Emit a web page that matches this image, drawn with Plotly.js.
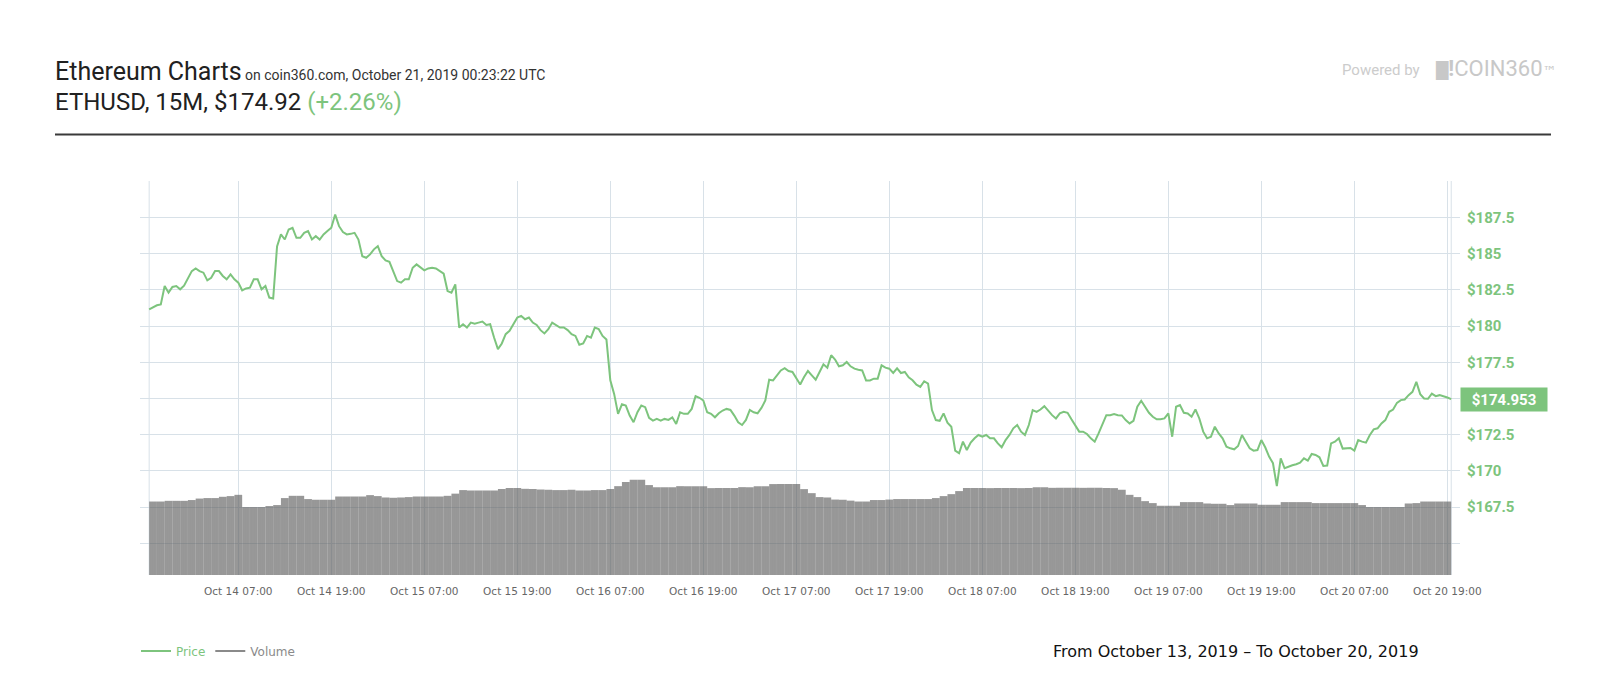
<!DOCTYPE html>
<html>
<head>
<meta charset="utf-8">
<script src="https://cdn.plot.ly/plotly-3.0.1.min.js"></script>
<style>
html,body{margin:0;padding:0;background:#fff;}
#chart{width:1600px;height:700px;}
</style>
</head>
<body>
<div id="chart"></div>
<script>
// ---- data (15M chart, Oct 13 19:30 -> Oct 20 19:30) ----
const startTime = '2019-10-13T19:30:00Z';

// price, one value every 30 minutes
const price = [
  181.16,181.28,181.44,181.50,182.77,182.31,182.70,182.77,182.54,182.79,183.34,183.80,
  183.98,183.80,183.69,183.16,183.34,183.80,183.80,183.46,183.23,183.57,183.23,183.00,
  182.47,182.60,182.65,183.23,183.23,182.54,182.77,181.97,181.90,185.50,186.33,185.98,
  186.67,186.79,186.10,186.10,186.44,186.56,185.98,186.21,185.98,186.33,186.56,186.79,
  187.70,186.90,186.49,186.33,186.37,186.44,185.98,184.83,184.72,184.95,185.30,185.52,
  184.83,184.54,184.44,183.80,183.11,183.00,183.23,183.23,184.03,184.26,184.03,183.85,
  183.98,184.03,183.98,183.80,183.62,182.42,182.31,182.88,179.90,180.13,179.90,180.24,
  180.17,180.24,180.31,180.08,180.13,179.21,178.41,178.80,179.44,179.67,180.13,180.59,
  180.70,180.47,180.59,180.24,180.08,179.72,179.49,179.78,180.24,180.08,179.90,179.90,
  179.72,179.44,179.32,178.71,178.80,179.32,179.20,179.90,179.80,179.32,179.07,176.25,
  175.30,173.94,174.60,174.51,173.82,173.36,174.05,174.51,174.40,173.66,173.47,173.59,
  173.47,173.59,173.52,173.70,173.24,174.05,173.94,173.94,174.28,175.16,175.05,174.86,
  174.05,173.94,173.70,173.98,174.17,174.28,174.21,173.82,173.36,173.17,173.52,174.21,
  174.05,173.98,174.35,174.86,176.30,176.25,176.60,176.94,177.10,176.90,176.83,176.37,
  175.97,176.48,176.90,176.60,176.30,176.83,177.36,177.13,177.99,177.69,177.22,177.29,
  177.52,177.22,177.06,176.99,176.94,176.25,176.25,176.37,176.37,177.29,177.13,177.06,
  176.76,177.08,176.76,176.83,176.46,176.26,175.95,175.80,176.19,176.03,174.20,173.51,
  173.46,173.97,173.33,173.05,171.40,171.22,172.02,171.44,171.95,172.25,172.48,172.36,
  172.48,172.25,172.25,171.90,171.63,172.13,172.48,172.94,173.17,172.71,172.48,173.17,
  174.20,174.08,174.24,174.47,174.15,173.85,173.62,173.97,174.08,174.01,173.56,173.17,
  172.71,172.71,172.55,172.25,172.02,172.59,173.28,173.85,173.85,173.92,173.85,173.83,
  173.51,173.28,173.46,174.43,174.84,174.43,174.01,173.74,173.56,173.56,173.62,173.97,
  172.36,174.43,174.54,174.01,173.97,173.74,174.24,173.62,172.71,172.25,172.36,173.05,
  172.59,172.25,171.67,171.56,171.49,171.72,172.48,172.02,171.56,171.40,171.44,172.13,
  171.63,170.99,170.53,168.95,170.87,170.18,170.30,170.39,170.46,170.57,170.87,170.71,
  171.17,171.10,170.94,170.34,170.37,171.90,172.02,172.25,171.54,171.56,171.58,171.40,
  172.13,172.02,171.95,172.48,172.87,172.94,173.28,173.51,174.08,174.24,174.70,174.89,
  174.93,175.23,175.46,176.15,175.30,175.00,174.98,175.34,175.16,175.23,175.16,175.07,
  174.953
];

// 24h volume, billions USD (one bar per hour)
const volume = [
  7.46,7.46,7.53,7.53,7.53,7.61,7.76,7.81,7.81,7.94,8.01,8.14,
  6.90,6.90,6.90,7.00,7.10,7.81,8.04,8.04,7.71,7.64,7.64,7.64,
  7.97,7.97,7.97,7.97,8.11,8.01,7.87,7.84,7.87,7.91,7.97,7.97,
  7.97,7.97,8.04,8.26,8.62,8.58,8.58,8.58,8.58,8.72,8.82,8.82,
  8.75,8.72,8.68,8.65,8.62,8.62,8.65,8.58,8.58,8.62,8.62,8.72,
  9.02,9.43,9.66,9.66,9.13,8.92,8.92,8.92,9.02,9.02,9.02,9.02,
  8.82,8.82,8.82,8.82,8.92,8.92,9.02,9.02,9.23,9.23,9.23,9.23,
  8.72,8.31,7.91,7.87,7.66,7.64,7.55,7.46,7.46,7.61,7.61,7.66,
  7.71,7.71,7.71,7.71,7.71,7.81,8.01,8.21,8.52,8.82,8.82,8.82,
  8.82,8.82,8.82,8.82,8.82,8.82,8.92,8.92,8.85,8.85,8.85,8.85,
  8.85,8.85,8.85,8.82,8.82,8.65,8.14,7.91,7.50,7.30,7.03,7.03,
  7.03,7.40,7.40,7.40,7.26,7.23,7.23,7.10,7.26,7.26,7.26,7.13,
  7.13,7.13,7.40,7.40,7.40,7.40,7.30,7.30,7.30,7.30,7.30,7.30,
  7.10,6.90,6.90,6.90,6.90,6.90,7.26,7.30,7.46,7.46,7.46,7.46
];

const tickTimes = [
  '2019-10-14 07:00','2019-10-14 19:00','2019-10-15 07:00','2019-10-15 19:00',
  '2019-10-16 07:00','2019-10-16 19:00','2019-10-17 07:00','2019-10-17 19:00',
  '2019-10-18 07:00','2019-10-18 19:00','2019-10-19 07:00','2019-10-19 19:00',
  '2019-10-20 07:00','2019-10-20 19:00'
];
const priceTicks = [165,167.5,170,172.5,175,177.5,180,182.5,185,187.5,190];
// $175 sits behind the live-price badge in the original, so it is left blank
const priceTickText = ['','$167.5','$170','$172.5','','$177.5','$180','$182.5','$185','$187.5',''];

// timestamps
const t0 = Date.parse(startTime);
const stamp = ms => new Date(ms).toISOString().slice(0,16).replace('T',' ');
const priceTimes = price.map((_, i) => stamp(t0 + i*1800000));
const volumeTimes = volume.map((_, i) => stamp(t0 + i*3600000));

const GREEN = '#7dc47d';
const GRID = '#d8e1e8';

// pixel -> paper helpers for page decorations (plot area 140..1460 x 181..575)
const L = 140, R = 140, T = 181, B = 125, W = 1600 - L - R, H = 700 - T - B;
const px = x => (x - L) / W;
const py = y => (700 - B - y) / H;

const traces = [
  {
    type: 'bar', x: volumeTimes, y: volume, yaxis: 'y2',
    offset: 0, width: 3600000,
    marker: {color: '#5c5c5c', line: {width: 0},
             pattern: {shape: '|', size: 1.94, solidity: 0.64, fillmode: 'replace'}},
    showlegend: false, hoverinfo: 'skip'
  },
  {
    type: 'scatter', mode: 'lines', x: priceTimes, y: price,
    line: {color: GREEN, width: 2, shape: 'linear'},
    name: '<span style="color:' + GREEN + '">Price</span>'
  },
  {
    type: 'scatter', mode: 'lines', x: [null], y: [null],
    line: {color: '#8a8a8a', width: 2},
    name: '<span style="color:#8a8a8a">Volume</span>'
  }
];

const last = price[price.length - 1];

const layout = {
  width: 1600, height: 700,
  margin: {l: L, r: R, t: T, b: B, pad: 0},
  paper_bgcolor: '#fff', plot_bgcolor: '#fff',
  font: {family: 'Roboto, sans-serif', color: '#222'},
  showlegend: true,
  legend: {orientation: 'h', x: px(136), xanchor: 'left', y: py(651), yanchor: 'middle',
           font: {family: 'DejaVu Sans', size: 12}, itemwidth: 30, bgcolor: 'rgba(0,0,0,0)'},
  xaxis: {
    type: 'date', range: ['2019-10-13 18:19', '2019-10-20 20:38'],
    tickvals: tickTimes, tickformat: '%b %d %H:%M',
    showgrid: true, gridcolor: GRID, gridwidth: 1, zeroline: false, showline: false,
    ticks: '', ticklabelstandoff: 8,
    tickfont: {family: 'DejaVu Sans', size: 10.5, color: '#666'}
  },
  yaxis: {
    side: 'right', range: [162.81, 190.02],
    tickvals: priceTicks, ticktext: priceTickText,
    showgrid: true, gridcolor: GRID, gridwidth: 1, zeroline: false, showline: false,
    ticks: '', ticklabelstandoff: 6,
    tickfont: {family: 'Roboto', size: 15, color: GREEN, weight: 'bold'}
  },
  yaxis2: {overlaying: 'y', range: [0, 40], visible: false, showgrid: false, zeroline: false},
  shapes: [
    {type: 'line', xref: 'x', yref: 'paper', x0: priceTimes[0], x1: priceTimes[0], y0: 0, y1: 1,
     line: {color: GRID, width: 1}, layer: 'below'},
    {type: 'line', xref: 'x', yref: 'paper', x0: priceTimes[priceTimes.length-1], x1: priceTimes[priceTimes.length-1], y0: 0, y1: 1,
     line: {color: GRID, width: 1}, layer: 'below'},
    {type: 'line', xref: 'paper', yref: 'paper', x0: px(55), x1: px(1551), y0: py(134.5), y1: py(134.5),
     line: {color: '#3a3a3a', width: 2}}
  ],
  annotations: [
    {xref: 'paper', yref: 'paper', x: px(53), y: py(71.5), xanchor: 'left', yanchor: 'middle', showarrow: false,
     text: '<span style="font-size:25px;color:#212121">Ethereum Charts</span><span style="font-size:14px;color:#333"> on coin360.com, October 21, 2019 00:23:22 UTC</span>',
     font: {family: 'Roboto', size: 25, color: '#212121'}},
    {xref: 'paper', yref: 'paper', x: px(53), y: py(101.5), xanchor: 'left', yanchor: 'middle', showarrow: false,
     text: 'ETHUSD, 15M, $174.92 <span style="color:' + GREEN + '">(+2.26%)</span>',
     font: {family: 'Roboto', size: 24, color: '#212121'}},
    {xref: 'paper', yref: 'paper', x: px(1340), y: py(70), xanchor: 'left', yanchor: 'middle', showarrow: false,
     text: 'Powered by', font: {family: 'Roboto', size: 15, color: '#cccccc'}},
    {xref: 'paper', yref: 'paper', x: px(1433), y: py(68.5), xanchor: 'left', yanchor: 'middle', showarrow: false,
     text: '<span style="font-family:DejaVu Sans;font-size:16px">█</span><b>!</b>COIN360<span style="font-family:DejaVu Sans;font-size:14px">™</span>',
     font: {family: 'Roboto', size: 22, color: '#c8c8c8'}},
    {xref: 'paper', yref: 'paper', x: px(1051), y: py(651), xanchor: 'left', yanchor: 'middle', showarrow: false,
     text: 'From October 13, 2019 – To October 20, 2019',
     font: {family: 'DejaVu Sans', size: 16, color: '#111'}},
    {xref: 'paper', yref: 'y', x: 1, y: last, xanchor: 'left', yanchor: 'middle', showarrow: false,
     text: '$' + last.toFixed(3), bgcolor: GREEN, width: 80, height: 17, borderpad: 3, align: 'center',
     font: {family: 'Roboto', size: 15, color: '#fff', weight: 'bold'}}
  ]
};

Plotly.newPlot('chart', traces, layout, {displayModeBar: false, staticPlot: true});
</script>
</body>
</html>
